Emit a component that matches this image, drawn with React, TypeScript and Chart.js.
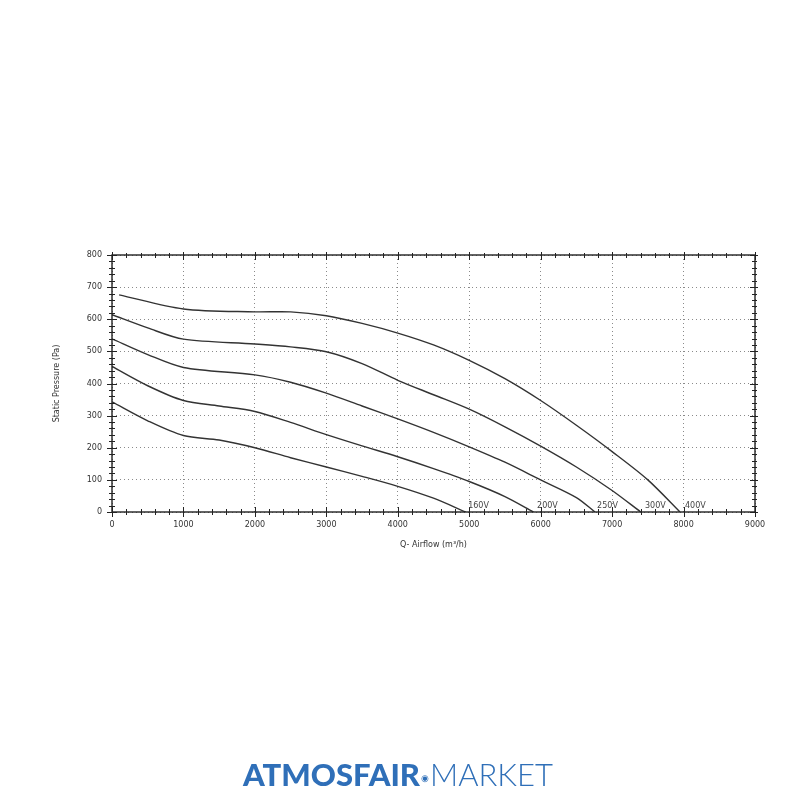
import React, { useEffect, useRef } from "react";
import { Chart, registerables } from "chart.js";

Chart.register(...registerables);

// Fan curves: airflow (m³/h) and static pressure (Pa) per voltage
const x400 = [100, 1000, 2000, 2500, 3000, 3500, 4000, 4500, 5000, 5500, 6000, 6500, 7000, 7500, 7950];
const y400 = [676, 632, 623, 623, 611, 587, 557, 520, 472, 415, 347, 270, 188, 100, 0];

const x300 = [0, 500, 1000, 2000, 2500, 3000, 3500, 4000, 4500, 5000, 5500, 6000, 6500, 7000, 7400];
const y300 = [614, 573, 538, 523, 514, 499, 462, 410, 365, 320, 265, 205, 140, 67, 0];

const x250 = [0, 500, 1000, 2000, 2500, 3000, 3500, 4000, 4500, 5000, 5500, 6000, 6500, 6760];
const y250 = [539, 490, 450, 427, 404, 370, 330, 290, 248, 203, 155, 100, 45, 0];

const x200 = [0, 500, 1000, 1500, 2000, 2500, 3000, 3500, 4000, 4500, 5000, 5500, 5900];
const y200 = [453, 393, 347, 330, 313, 279, 241, 206, 172, 135, 95, 48, 0];

const x160 = [0, 500, 1000, 1500, 2000, 2500, 3000, 3500, 4000, 4500, 4950];
const y160 = [343, 284, 238, 224, 200, 169, 140, 111, 80, 43, 0];

const curveLabels = ["160V", "200V", "250V", "300V", "400V"];
const curveLabelX = [4985, 5950, 6790, 7460, 8020];
const curveLabelY = [20, 20, 20, 20, 20];

const xTitle = "Q- Airflow (m³/h)";
const yTitle = "Static Pressure (Pa)";

const FONT = "'DejaVu Sans', Verdana, sans-serif";

function pts(xs: number[], ys: number[]) {
  return xs.map((x, i) => ({ x, y: ys[i] }));
}

const framePlugin = {
  id: "frameTicks",
  afterDraw(chart: any) {
    const { ctx, chartArea: a, scales } = chart;
    const xs = scales.x;
    const ys = scales.y;
    ctx.save();
    ctx.strokeStyle = "#222";
    ctx.lineWidth = 1.4;
    ctx.strokeRect(a.left, a.top, a.right - a.left, a.bottom - a.top);
    ctx.lineWidth = 1;
    for (let v = 0; v <= 9000; v += 200) {
      const px = Math.round(xs.getPixelForValue(v)) + 0.5;
      const major = v % 1000 === 0;
      const l = major ? 5 : 3;
      ctx.beginPath();
      ctx.moveTo(px, a.bottom - l);
      ctx.lineTo(px, a.bottom + (major ? 5 : 3));
      ctx.moveTo(px, a.top - (major ? 3 : 2));
      ctx.lineTo(px, a.top + l);
      ctx.stroke();
    }
    for (let v = 0; v <= 800; v += 20) {
      const py = Math.round(ys.getPixelForValue(v)) + 0.5;
      const major = v % 100 === 0;
      const l = major ? 5 : 3;
      ctx.beginPath();
      ctx.moveTo(a.left - l, py);
      ctx.lineTo(a.left + l, py);
      ctx.moveTo(a.right - l, py);
      ctx.lineTo(a.right + (major ? 3 : 2), py);
      ctx.stroke();
    }
    ctx.fillStyle = "#444";
    ctx.font = `8px ${FONT}`;
    ctx.textAlign = "left";
    ctx.textBaseline = "middle";
    curveLabels.forEach((t, i) => {
      ctx.fillText(t, xs.getPixelForValue(curveLabelX[i]), ys.getPixelForValue(curveLabelY[i]));
    });
    ctx.restore();
  },
};

export default function App() {
  const ref = useRef<HTMLCanvasElement | null>(null);

  useEffect(() => {
    if (!ref.current) return;
    const mk = (xs: number[], ys: number[]) => ({
      data: pts(xs, ys),
      borderColor: "#333",
      borderWidth: 1.4,
      pointRadius: 0,
      fill: false,
      tension: 0.3,
    });
    const chart = new Chart(ref.current, {
      type: "line",
      data: {
        datasets: [mk(x400, y400), mk(x300, y300), mk(x250, y250), mk(x200, y200), mk(x160, y160)],
      },
      options: {
        animation: false,
        responsive: false,
        layout: { padding: { top: 255, left: 0, right: 45, bottom: 238 } },
        plugins: { legend: { display: false }, tooltip: { enabled: false } },
        scales: {
          x: {
            type: "linear",
            min: 0,
            max: 9000,
            ticks: {
              stepSize: 1000,
              color: "#333",
              font: { size: 8, family: FONT },
              padding: 8,
              maxRotation: 0,
              callback: (v: any) => String(v),
            },
            grid: { color: "#8a8a8a", lineWidth: 1, drawTicks: false },
            border: { display: false, dash: [1, 3] },
            title: { display: true, text: xTitle, color: "#333", font: { size: 8, family: FONT }, padding: { top: 0, bottom: 12 } },
            afterFit: (s: any) => { s.height = 50; },
          },
          y: {
            type: "linear",
            min: 0,
            max: 800,
            ticks: {
              stepSize: 100,
              color: "#333",
              font: { size: 8, family: FONT },
              padding: 10,
              callback: (v: any) => String(v),
            },
            grid: { color: "#8a8a8a", lineWidth: 1, drawTicks: false },
            border: { display: false, dash: [1, 3] },
            title: { display: true, text: yTitle, color: "#333", font: { size: 8, family: FONT }, padding: { top: 52, bottom: 0 } },
            afterFit: (s: any) => { s.width = 112; },
          },
        },
      },
      plugins: [framePlugin],
    });
    return () => chart.destroy();
  }, []);

  return (
    <div style={{ position: "absolute", left: 0, top: 0, width: 800, height: 800, background: "#fff", overflow: "hidden" }}>
      <canvas ref={ref} width={800} height={800} style={{ position: "absolute", left: 0, top: 0 }} />
      <div
        style={{
          position: "absolute",
          left: 243,
          top: 756,
          width: 320,
          fontFamily: "Lato, 'Open Sans', sans-serif",
          fontSize: 31,
          lineHeight: "36px",
          color: "#2f6fb8",
          whiteSpace: "nowrap",
        }}
      >
        <span style={{ fontWeight: 900, letterSpacing: 0 }}>ATMOSFAIR</span>
        <span style={{ fontWeight: 300, fontSize: 9, verticalAlign: "middle", margin: "0 1px" }}>◉</span>
        <span style={{ fontWeight: 300, letterSpacing: 0 }}>MARKET</span>
      </div>
    </div>
  );
}
